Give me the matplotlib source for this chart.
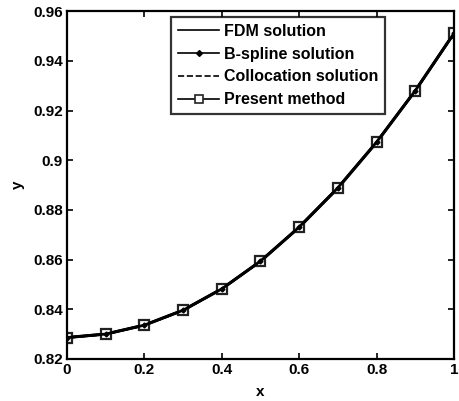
import matplotlib
matplotlib.use("Agg")
import matplotlib.pyplot as plt

# values
x = [0.0, 0.1, 0.2, 0.3, 0.4, 0.5, 0.6, 0.7, 0.8, 0.9, 1.0]
fdm = [0.8286, 0.8300, 0.8336, 0.8396, 0.8482, 0.8593, 0.8730, 0.8888, 0.9072, 0.9280, 0.9511]
bspline = [0.8286, 0.8300, 0.8336, 0.8396, 0.8482, 0.8594, 0.8731, 0.8889, 0.9073, 0.9280, 0.9511]
collocation = [0.8285, 0.8299, 0.8335, 0.8395, 0.8481, 0.8593, 0.8730, 0.8888, 0.9072, 0.9279, 0.9510]
present = [0.8286, 0.8300, 0.8336, 0.8396, 0.8482, 0.8593, 0.8731, 0.8889, 0.9073, 0.9280, 0.9511]

xticks = [0, 0.2, 0.4, 0.6, 0.8, 1]
xtick_labels = ["0", "0.2", "0.4", "0.6", "0.8", "1"]
yticks = [0.82, 0.84, 0.86, 0.88, 0.9, 0.92, 0.94, 0.96]
ytick_labels = ["0.82", "0.84", "0.86", "0.88", "0.9", "0.92", "0.94", "0.96"]

plt.rcParams["font.family"] = ["Liberation Sans", "DejaVu Sans"]
plt.rcParams["font.weight"] = "bold"

fig = plt.figure(figsize=(4.59, 4.01), dpi=100)
ax = fig.add_axes([0.146, 0.105, 0.843, 0.867])

ax.plot(x, fdm, color="black", linewidth=2.2, label="FDM solution")
ax.plot(x, collocation, color="black", linewidth=1.5, linestyle="--",
        label="Collocation solution")
ax.plot(x, present, color="black", linewidth=1.5, marker="s", markersize=6.5,
        markerfacecolor="white", markeredgecolor="#222222", markeredgewidth=1.6,
        label="Present method")
ax.plot(x, bspline, color="black", linewidth=2.0, marker="D", markersize=2.5,
        label="B-spline solution")

ax.set_xlim(0, 1)
ax.set_ylim(0.82, 0.96)
ax.set_xticks(xticks)
ax.set_xticklabels(xtick_labels)
ax.set_yticks(yticks)
ax.set_yticklabels(ytick_labels)
ax.tick_params(direction="in", top=True, right=True, length=4, width=1.2,
               labelsize=11, pad=3)
for lab in ax.get_xticklabels() + ax.get_yticklabels():
    lab.set_fontweight("bold")
for sp in ax.spines.values():
    sp.set_linewidth(1.6)

ax.set_xlabel("x", fontsize=11, fontweight="bold", labelpad=6)
ax.set_ylabel("y", fontsize=11, fontweight="bold", labelpad=6)

# legend order as in the original
handles, labels = ax.get_legend_handles_labels()
order = [0, 3, 1, 2]
handles = [handles[i] for i in order]
labels = [labels[i] for i in order]
leg = ax.legend(handles, labels, loc="upper left", bbox_to_anchor=(0.27, 0.983),
                fontsize=11.5, frameon=True, fancybox=False, handlelength=2.6,
                labelspacing=0.5, borderpad=0.4, handletextpad=0.3,
                borderaxespad=0)
leg.get_frame().set_edgecolor("black")
leg.get_frame().set_linewidth(1.6)
for t in leg.get_texts():
    t.set_fontweight("bold")
for h in leg.legend_handles:
    h.set_linewidth(1.2)
leg.legend_handles[1].set_markersize(3)
leg.legend_handles[3].set_markeredgewidth(1.2)
leg.legend_handles[3].set_markersize(6)

fig.savefig("out.png", dpi=100)
